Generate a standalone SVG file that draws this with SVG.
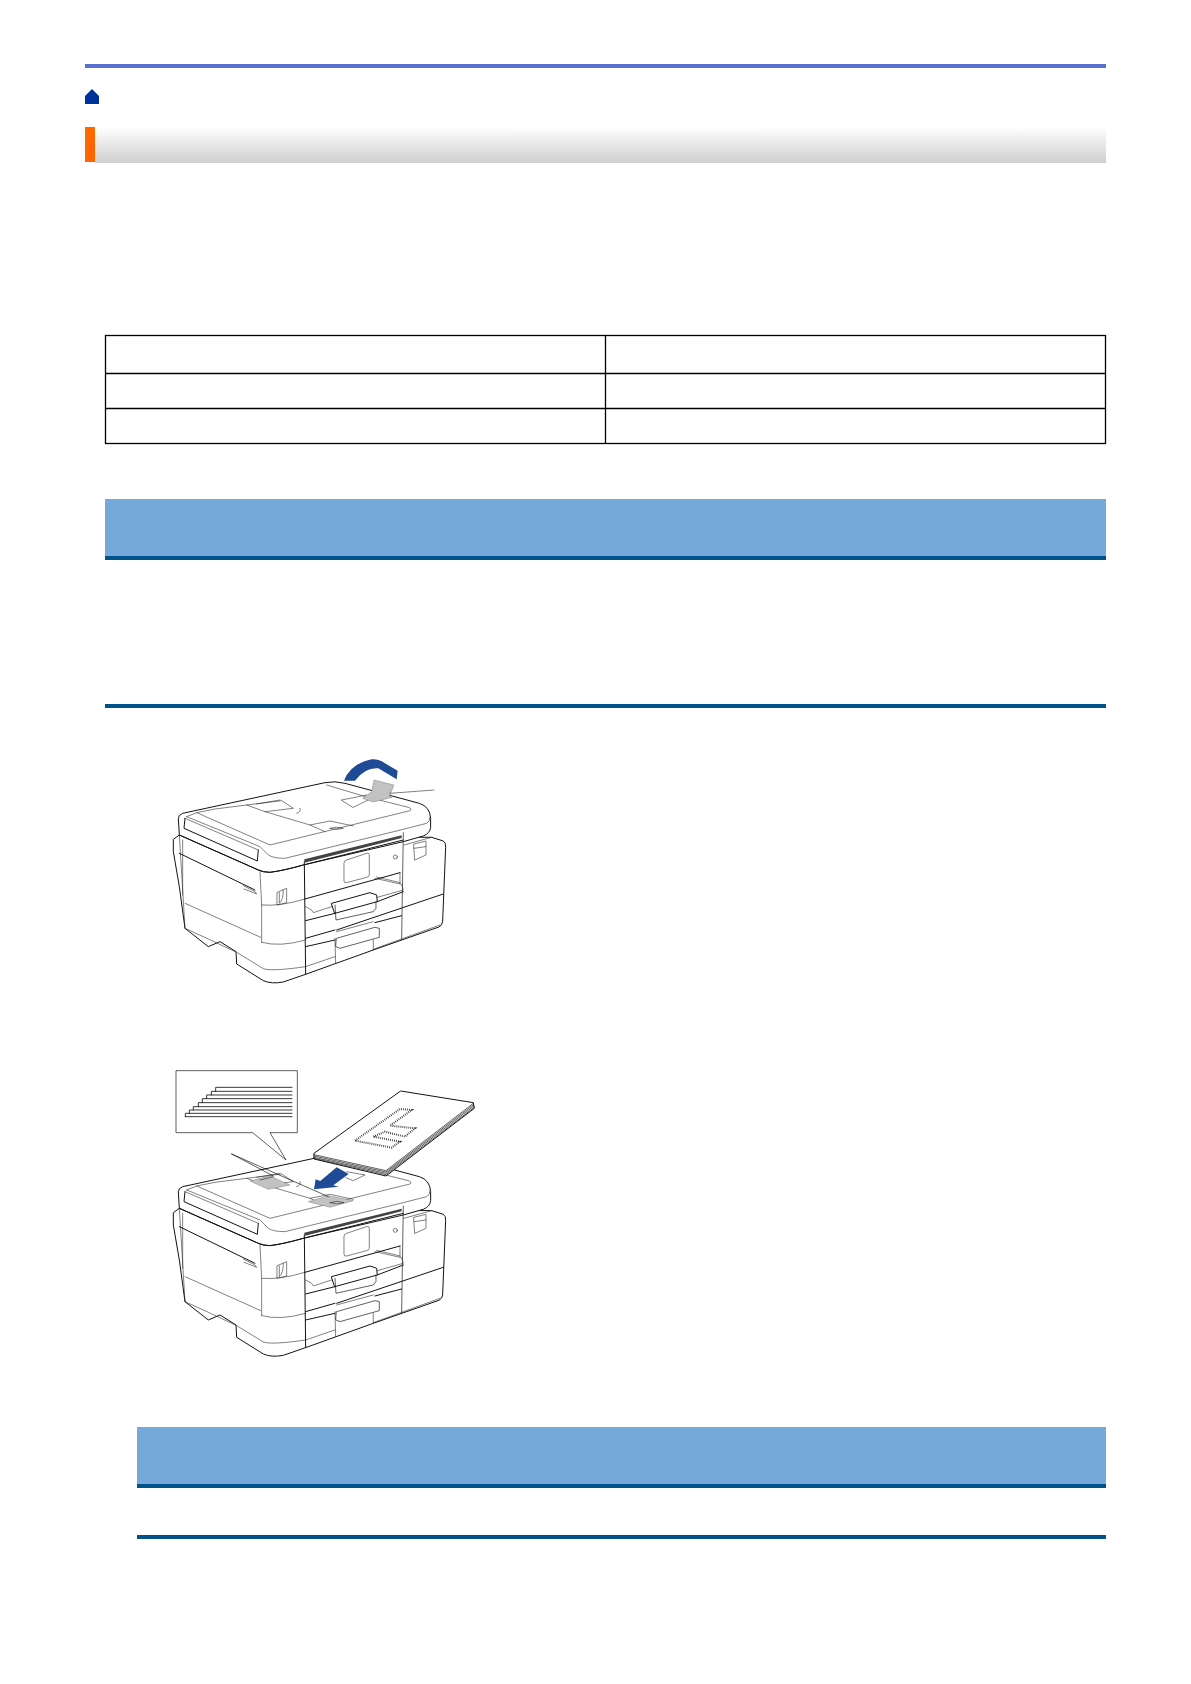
<svg xmlns="http://www.w3.org/2000/svg" width="1191" height="1684" viewBox="0 0 1191 1684">
<style>
.o{fill:none;stroke:#111;stroke-width:3;stroke-linejoin:round;stroke-linecap:round}
.t{fill:none;stroke:#222;stroke-width:1.700;stroke-linejoin:round;stroke-linecap:round}
.f{fill:#fff;stroke:#111;stroke-width:3;stroke-linejoin:round}
.g{fill:#c2c2c2;stroke:#666;stroke-width:1.200;stroke-linejoin:round}
.b{fill:#1f4a96}
.band{fill:#75a9da}
.dark{fill:#00528a}
.cell{fill:none;stroke:#000;stroke-width:1.300}
</style>
<defs>
<linearGradient id="hg" x1="0" y1="0" x2="0" y2="1"><stop offset="0" stop-color="#fff"/><stop offset="0.6" stop-color="#e2e2e2"/><stop offset="1" stop-color="#cfcfcf"/></linearGradient>
<g id="printer">
<path class="f" d="M875,292L910,303Q918,307 917,322L908,545Q907,556 897,561L700,630L497,703L430,726Q395,733 370,722L290,672L288,635L240,605L205,620L135,565L118,440L100,335L100,298L118,285Z"/>
<path class="f" d="M115,235Q115,225 128,220L555,128Q585,122 615,130L838,190Q870,200 872,235L872,262Q870,280 850,288L790,305L490,375Q430,392 390,397Q370,397 355,390L118,285Z"/>
<path class="t" d="M118,285L135,565M128,300L128,465M135,235L355,330M140,230L360,320L385,345Q400,355 435,355L790,268L860,250Q870,245 870,232"/>
<path class="t" d="M140,230L170,218L225,207L320,195L425,182L460,205L375,215L320,195M170,218L390,315L810,212Q818,207 805,202L670,168L560,135M350,192L420,180M480,205Q485,215 470,220M375,215L510,255L570,243L640,258M510,255L555,275M570,265Q590,258 610,265Q590,272 570,265"/>
<path class="o" d="M135,235L132,265L352,363L355,330"/>
<path class="o" d="M118,285L355,390Q370,397 390,397Q430,392 490,375L790,300M118,340L345,450"/>
<path class="t" d="M135,490L362,592M135,565L205,597L290,637L370,686Q395,695 497,680M360,395L365,495L365,607M365,495Q420,500 495,477M365,607Q420,622 497,600M310,437L345,455L350,462L312,447"/>
<path class="t" d="M412,457L440,445L440,488L412,495ZM418,458L418,490Q430,480 430,450"/>
<path class="t" d="M822,312L858,303L858,345L825,360ZM822,325L858,320M875,292L792,315"/>
<path class="o" d="M493,365L497,703"/>
<path d="M493,358L785,286L785,294L493,368Z" fill="#444"/>
<path class="o" d="M790,278L785,598" style="stroke-width:2"/>
<path class="t" d="M780,398L780,430"/>
<path class="t" d="M612,368Q612,362 620,360L680,340Q688,338 688,345L688,405Q688,410 680,412L620,428Q612,430 612,423Z"/>
<circle class="t" cx="766" cy="351" r="6"/>
<path class="o" d="M495,477L780,398M497,542L585,520M712,485L790,455M497,595L585,570M590,570L910,462M497,620L585,600M705,548L785,527"/>
<path class="t" d="M705,415L785,433L790,450L712,472M710,411L780,428M497,500L515,510L520,518L575,500"/>
<path class="t" d="M585,595L587,670M497,680L585,650M700,600L700,630M700,628L900,555"/>
<path class="o" d="M575,490L690,458L710,465L712,485L585,520Z"/>
<path class="o" d="M585,495L588,540L700,515L708,505L708,485" style="stroke-width:2"/>
<path class="t" d="M590,575L700,545"/>
<path class="o" d="M590,595L705,562L718,565L718,592L600,625L588,620Z" style="stroke-width:2"/>
</g>
</defs>
<rect x="85" y="64" width="1021" height="4" fill="#5a70d2"/>
<path d="M92,89L99,96L99,104L85,104L85,96Z" fill="#003399"/>
<rect x="95" y="127" width="1011" height="36" fill="url(#hg)"/>
<rect x="85" y="127" width="10" height="35" fill="#ff6600"/>
<g id="table">
<rect class="cell" x="105.500" y="335.500" width="1000" height="108"/>
<path class="cell" d="M605.500,335.500V443.500M105.500,373.500H1105.500M105.500,408.500H1105.500"/>
</g>
<g id="note1">
<rect class="band" x="105" y="499" width="1001" height="57"/>
<rect class="dark" x="105" y="556" width="1001" height="4"/>
<rect class="dark" x="105" y="704" width="1001" height="4"/>
</g>
<g id="printer1" transform="translate(140,740) scale(0.3333)">
<use href="#printer"/>
<path class="t" d="M605,180L680,165L695,175L640,202Z"/>
<path class="g" d="M668,175L695,155L702,120L762,135L748,170L756,172L700,186Z"/>
<path class="t" d="M750,160L882,150"/>
<path class="b" d="M612,122Q632,70 695,58Q718,57 735,70L773,92L770,118L715,85Q675,82 645,122Z"/>
</g>
<g id="printer2" transform="translate(140,1050) scale(0.3333)">
<g transform="translate(0,190)"><use href="#printer"/></g>
<path class="g" d="M330,393L390,378L450,405L385,418Z"/>
<path class="g" d="M505,455L565,437L640,452L570,472Z"/>
<path class="t" d="M570,458Q590,450 612,458Q590,466 570,458M360,390L400,380M620,365L675,375L640,392L618,383"/>
<path class="b" d="M522,418L527,388L541,393L590,352L626,372L580,406L596,410Z"/>
<path class="o" style="stroke-width:2" d="M275,312L400,378M275,312L565,440"/>
<path class="f" d="M108,62H472V248H390L438,330L338,248H108Z" style="stroke-width:2"/>
<path class="o" style="stroke-width:2.500" d="M227,124V112H456M214,135V124H456M200,146V135H456M187,158V146H456M175,170V158H456M160,180V170H456M148,190V180H456M136,200V190H456M136,200H456"/>
<path class="f" d="M522,310L782,123L1000,158L1003,175L738,378L522,327Z"/>
<path class="o" style="stroke-width:2" d="M522,314L738,362L1000,160M522,318L738,366L1001,164M522,322L738,370L1002,168M522,325L738,374L1003,172"/>
<path fill="none" stroke="#333" stroke-width="6" stroke-dasharray="2.500 3.500" d="M645,272L780,177L815,180L750,227L825,235L795,260L735,245L700,260L780,275L755,293Z"/>
</g>
<g id="note2">
<rect class="band" x="137" y="1427" width="969" height="57"/>
<rect class="dark" x="137" y="1484" width="969" height="4"/>
<rect class="dark" x="137" y="1535" width="969" height="4"/>
</g>
</svg>
